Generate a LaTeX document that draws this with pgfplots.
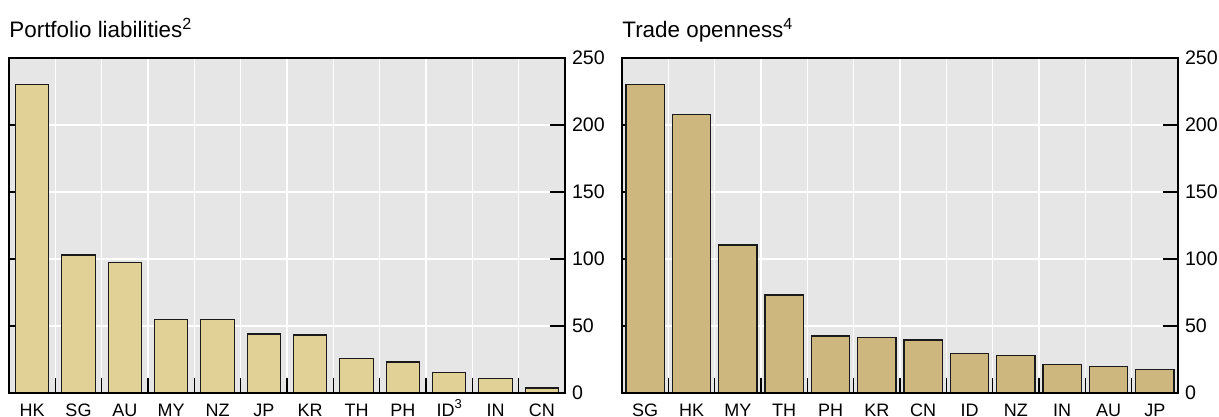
\documentclass[border=0pt]{standalone}
\usepackage{fontspec}
\setmainfont{Liberation Sans}
\usepackage{pgfplots}
\pgfplotsset{compat=1.18}
\definecolor{panel}{HTML}{E6E6E6}
\definecolor{barlight}{HTML}{E2D196}
\definecolor{bardark}{HTML}{CDB77E}
\definecolor{edge}{HTML}{1A1A1A}

\newcommand{\sups}[1]{\raisebox{0.4em}{\fontsize{0.72em}{1em}\selectfont #1}}
\tikzset{paneltitle/.style={anchor=base west, inner sep=0pt, font=\fontsize{11.2}{13}\selectfont, yshift=10pt}}
\pgfplotsset{
  bispanel/.style={
    width=278pt, height=167.5pt, scale only axis,
    anchor=south west, clip=false,
    xmin=-0.5, xmax=11.5, ymin=0, ymax=250,
    xtick={0,...,11}, minor xtick={0.5,1.5,...,10.5},
    ytick={0,50,...,250},
    axis background/.style={fill=panel},
    axis line style={line width=1pt, black},
    tick align=inside,
    major tick length=7.5pt, minor tick length=7.5pt,
    tick style={black, line width=0.6pt},
    major x tick style=transparent,
    minor x tick style={yshift=7.5pt},
    xtick pos=bottom, yticklabel pos=right, ytick pos=both,
    xminorgrids=true, ymajorgrids=true,
    minor grid style={white, line width=0.8pt, yshift=0pt},
    major grid style={white, line width=0.8pt},
    yticklabel style={font=\fontsize{9.8}{11}\selectfont, text=black},
    xticklabel style={font=\fontsize{9}{11}\selectfont, text=black,
      anchor=base, inner sep=0pt, yshift=-4pt},
    /pgf/number format/assume math mode=true,
    ybar,
  },
}

\begin{document}
\begin{tikzpicture}
\useasboundingbox (-4.5pt,-12pt) rectangle (605pt,196.5pt);

% portfolio liabilities
\begin{axis}[bispanel, at={(0pt,0pt)}, bar width=0.72,
  xticklabels={HK,SG,AU,MY,NZ,JP,KR,TH,PH,ID\sups{3},IN,CN}]
\addplot[fill=barlight, draw=edge, line width=0.6pt] coordinates {
  (0,230.5) (1,103) (2,97.5) (3,55) (4,54.6) (5,44) (6,43.3)
  (7,25.5) (8,23.2) (9,15.5) (10,11) (11,3.7)};
\draw[line width=1.4pt] (rel axis cs:0,0) -- (rel axis cs:1,0);
\node[paneltitle] at (rel axis cs:0,1) {Portfolio liabilities\sups{2}};
\end{axis}

% trade openness
\begin{axis}[bispanel, at={(306.5pt,0pt)}, bar width=0.83,
  xticklabels={SG,HK,MY,TH,PH,KR,CN,ID,NZ,IN,AU,JP}]
\addplot[fill=bardark, draw=edge, line width=0.6pt] coordinates {
  (0,230) (1,208) (2,110.5) (3,73.2) (4,42.6) (5,41.6) (6,39.6)
  (7,29.5) (8,28.2) (9,21.5) (10,20) (11,17.3)};
\draw[line width=1.4pt] (rel axis cs:0,0) -- (rel axis cs:1,0);
\node[paneltitle] at (rel axis cs:0,1) {Trade openness\sups{4}};
\end{axis}
\end{tikzpicture}
\end{document}
